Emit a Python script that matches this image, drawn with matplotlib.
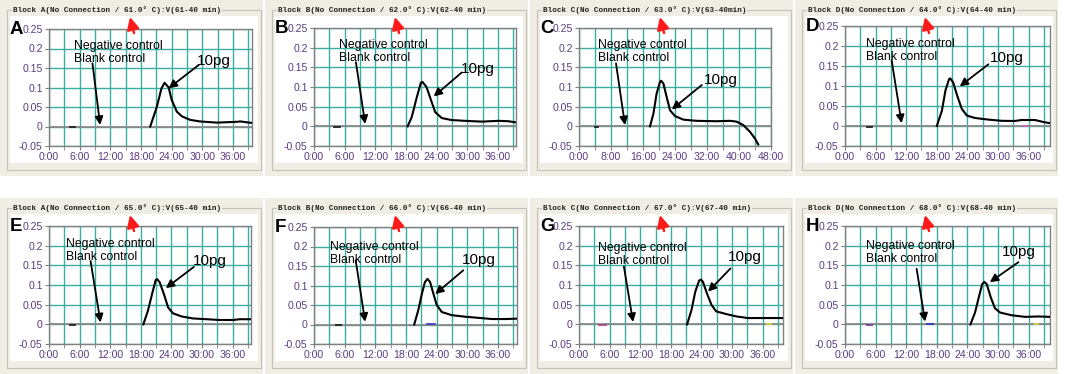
import matplotlib
matplotlib.use("Agg")
import matplotlib.pyplot as plt
from matplotlib.patches import Rectangle
from matplotlib.ticker import MultipleLocator, FixedLocator, FixedFormatter

plt.rcParams['font.family'] = ['Liberation Sans', 'DejaVu Sans']

W, H = 1065, 374

letters = ['A', 'B', 'C', 'D', 'E', 'F', 'G', 'H']
blocks = ['A', 'B', 'C', 'D', 'A', 'B', 'C', 'D']
temps = [61, 62, 63, 64, 65, 66, 67, 68]
x_max = [39.7, 39.5, 48, 40.2, 39.6, 39.7, 40, 40.2]
tick_step = [6, 6, 8, 6, 6, 6, 6, 6]

y_ticks = [-0.05, 0, 0.05, 0.1, 0.15, 0.2, 0.25]
y_labels = ['-0.05', '0', '0.05', '0.1', '0.15', '0.2', '0.25']

# 10pg amplification traces (time in min, signal)
A_t = [19.8, 21.1, 22.0, 22.6, 23.4, 24.0, 25.0, 26.0, 27.6, 29.5, 32.8, 36.7, 37.4, 39.7]
A_v = [0.0, 0.051, 0.098, 0.112, 0.10, 0.068, 0.038, 0.026, 0.017, 0.013, 0.010, 0.012, 0.013, 0.009]
B_t = [18.3, 19.1, 20.1, 20.9, 21.2, 22.0, 22.9, 23.7, 25.0, 26.9, 29.5, 32.8, 36.1, 38.0, 39.5]
B_v = [0.0, 0.023, 0.074, 0.111, 0.113, 0.10, 0.066, 0.036, 0.021, 0.016, 0.014, 0.012, 0.014, 0.013, 0.010]
C_t = [17.75, 18.6, 19.4, 20.25, 20.5, 21.1, 21.9, 22.75, 24.0, 26.1, 29.4, 34.4, 37.75, 39.4, 41.1, 42.75, 44.0, 44.8]
C_v = [0.0, 0.032, 0.083, 0.113, 0.116, 0.109, 0.075, 0.041, 0.026, 0.017, 0.014, 0.013, 0.014, 0.012, 0.003, -0.014, -0.031, -0.046]
D_t = [18.0, 19.0, 19.7, 20.4, 20.65, 21.2, 22.1, 22.9, 23.9, 25.5, 28.1, 30.7, 33.3, 34.6, 37.25, 38.9, 40.2]
D_v = [0.0, 0.038, 0.089, 0.117, 0.119, 0.109, 0.072, 0.043, 0.026, 0.020, 0.016, 0.013, 0.0125, 0.015, 0.015, 0.010, 0.007]
E_t = [18.5, 19.4, 20.3, 20.9, 21.2, 21.7, 22.5, 23.35, 24.3, 26.0, 28.2, 30.9, 33.5, 36.1, 37.4, 39.6]
E_v = [0.0, 0.035, 0.082, 0.112, 0.115, 0.107, 0.078, 0.043, 0.028, 0.020, 0.015, 0.013, 0.011, 0.011, 0.013, 0.013]
F_t = [19.6, 20.4, 21.1, 21.7, 22.2, 22.7, 23.35, 24.0, 25.0, 26.9, 29.55, 32.2, 34.8, 37.4, 39.7]
F_v = [0.0, 0.037, 0.079, 0.109, 0.117, 0.109, 0.079, 0.050, 0.032, 0.024, 0.020, 0.017, 0.014, 0.014, 0.015]
G_t = [21.2, 22.05, 22.8, 23.55, 23.9, 24.3, 25.1, 26.0, 26.9, 28.9, 30.9, 33.1, 36.1, 40.0]
G_v = [0.0, 0.036, 0.083, 0.111, 0.114, 0.108, 0.078, 0.049, 0.033, 0.026, 0.020, 0.016, 0.016, 0.016]
H_t = [24.6, 25.5, 26.3, 26.9, 27.3, 27.8, 28.6, 29.4, 30.4, 32.7, 35.3, 37.9, 40.2]
H_v = [0.0, 0.030, 0.072, 0.102, 0.108, 0.102, 0.068, 0.041, 0.030, 0.023, 0.019, 0.020, 0.019]
traces = [(A_t, A_v), (B_t, B_v), (C_t, C_v), (D_t, D_v),
          (E_t, E_v), (F_t, F_v), (G_t, G_v), (H_t, H_v)]

# short stray traces near baseline: (start, end, value, colour)
small_marks = [
    [(4.1, 5.1, -0.002, '#222222')],
    [(4.0, 5.0, -0.002, '#222222')],
    [(3.9, 4.8, -0.001, '#222222')],
    [(4.3, 5.3, -0.002, '#222222'), (34.9, 35.8, 0.001, '#d060c0')],
    [(4.1, 5.0, -0.002, '#222222')],
    [(4.3, 5.2, -0.002, '#222222'), (22.1, 23.7, 0.002, '#4040c8')],
    [(4.0, 5.3, -0.001, '#b04890'), (36.8, 37.6, 0.002, '#d8d040')],
    [(4.3, 5.2, -0.001, '#8040a0'), (16.0, 17.2, 0.002, '#3030c0'), (37.2, 37.9, 0.001, '#e0d040')],
]

# annotation anchors in data units
ctrl_txt = [(4.9, 0.222), (4.9, 0.222), (4.8, 0.223), (4.05, 0.219),
            (3.3, 0.219), (3.1, 0.214), (3.8, 0.209), (4.05, 0.214)]
ctrl_arr = [((8.5, 0.162), (10.0, 0.004)), ((8.2, 0.163), (10.0, 0.006)),
            ((9.25, 0.16), (11.5, 0.003)), ((9.15, 0.164), (11.1, 0.007)),
            ((8.15, 0.161), (10.1, 0.005)), ((8.15, 0.165), (10.0, 0.007)),
            ((8.8, 0.147), (10.6, 0.006)), ((14.05, 0.141), (15.7, 0.007))]
pg_txt = [(28.9, 0.167), (28.8, 0.146), (31.1, 0.117), (28.4, 0.17),
          (28.2, 0.161), (28.9, 0.166), (29.2, 0.17), (30.7, 0.183)]
pg_arr = [((29.3, 0.158), (23.4, 0.098)), ((28.9, 0.137), (23.4, 0.076)),
          ((30.7, 0.105), (23.2, 0.043)), ((28.1, 0.154), (22.5, 0.099)),
          ((28.4, 0.146), (22.9, 0.092)), ((29.2, 0.139), (23.7, 0.078)),
          ((29.7, 0.142), (25.3, 0.083)), ((34.0, 0.158), (28.4, 0.107))]

# layout in pixels
panel_x = [0, 265, 530, 795, 0, 265, 530, 795]
panel_y = [0, 0, 0, 0, 198, 198, 198, 198]
ax_box = [(49, 29, 252, 146), (314, 28, 516, 146), (579, 28, 771, 146), (845, 26, 1050, 146),
          (49, 226, 251, 344), (314, 227, 517, 344), (579, 226, 783, 344), (845, 226, 1050, 344)]

beige = '#efede4'
teal = '#3aaea0'
purple = '#5a3d80'

fig = plt.figure(figsize=(W / 100, H / 100), dpi=100)
bg = fig.add_axes([0, 0, 1, 1])
bg.set_xlim(0, W)
bg.set_ylim(H, 0)
bg.axis('off')

for i in range(8):
    px, py = panel_x[i], panel_y[i]
    bg.add_patch(Rectangle((px, py), 263, 176, facecolor=beige, edgecolor='none'))
    bg.add_patch(Rectangle((px + 7, py + 10), 254, 160, fill=False, edgecolor='#c4c2b8', lw=0.8))
    bg.add_patch(Rectangle((px + 10, py + 16), 248, 147, facecolor='white', edgecolor='none'))
    title = f"Block {blocks[i]}(No Connection / {temps[i]}.0\u00b0 C):V({temps[i]}-40 min)"
    if i == 2:
        title = title.replace('40 min', '40min')
    bg.text(px + 13, py + 10, title, fontsize=5.5, family='Liberation Mono', color='#202020',
            fontweight='bold', va='center', ha='left',
            bbox=dict(facecolor=beige, edgecolor='none', pad=0.4))

    l, t, r, b = ax_box[i]
    bg.text(l - 39, t + 5, letters[i], fontsize=13.5, fontweight='bold', va='baseline', ha='left')

    ax = fig.add_axes([l / W, 1 - b / H, (r - l) / W, (b - t) / H])
    ax.set_xlim(0, x_max[i])
    ax.set_ylim(-0.05, 0.25)
    step = tick_step[i]
    ax.xaxis.set_major_locator(MultipleLocator(step))
    ax.xaxis.set_minor_locator(MultipleLocator(step / 2))
    ax.xaxis.set_major_formatter(plt.FuncFormatter(lambda v, p: f"{int(round(v))}:00"))
    ax.yaxis.set_major_locator(FixedLocator(y_ticks))
    ax.yaxis.set_major_formatter(FixedFormatter(y_labels))
    ax.grid(True, which='both', color=teal, lw=1.0)
    ax.set_axisbelow(True)
    ax.tick_params(which='both', length=3, color='#808080', labelsize=7.6, labelcolor=purple, pad=1.5)
    for s in ax.spines.values():
        s.set_color('#808080')
        s.set_linewidth(1.0)

    # negative / blank control traces sit on the baseline
    ax.plot([0, x_max[i]], [0, 0], color='#8a8a8a', lw=1.3, zorder=2)
    for (a0, a1, v, c) in small_marks[i]:
        ax.plot([a0, a1], [v, v], color=c, lw=1.3, zorder=3)
    ts, vs = traces[i]
    ax.plot(ts, vs, color='black', lw=1.5, zorder=4, solid_joinstyle='round')

    ax.text(ctrl_txt[i][0], ctrl_txt[i][1], "Negative control\nBlank control",
            fontsize=8.8, va='top', ha='left', linespacing=1.1, zorder=5)
    ax.annotate('', xy=ctrl_arr[i][1], xytext=ctrl_arr[i][0],
                arrowprops=dict(arrowstyle='-|>', color='black', lw=1.3, mutation_scale=12,
                                shrinkA=0, shrinkB=0), zorder=5)
    ax.text(pg_txt[i][0], pg_txt[i][1], "10pg", fontsize=11, va='center', ha='left', zorder=5)
    ax.annotate('', xy=pg_arr[i][1], xytext=pg_arr[i][0],
                arrowprops=dict(arrowstyle='-|>', color='black', lw=1.3, mutation_scale=12,
                                shrinkA=0, shrinkB=0), zorder=5)

# red markers pointing at the annealing temperature, drawn above everything
top = fig.add_axes([0, 0, 1, 1], zorder=10)
top.set_xlim(0, W)
top.set_ylim(H, 0)
top.axis('off')
top.patch.set_alpha(0)
for i in range(8):
    px, py = panel_x[i], panel_y[i]
    top.annotate('', xy=(px + 130, py + 17), xytext=(px + 134, py + 33),
                 arrowprops=dict(arrowstyle='-|>,head_length=0.6,head_width=0.3', color='#ff1a1a',
                                 lw=1.8, mutation_scale=12, shrinkA=0, shrinkB=0))

fig.savefig('out.png', dpi=100, facecolor='white')
